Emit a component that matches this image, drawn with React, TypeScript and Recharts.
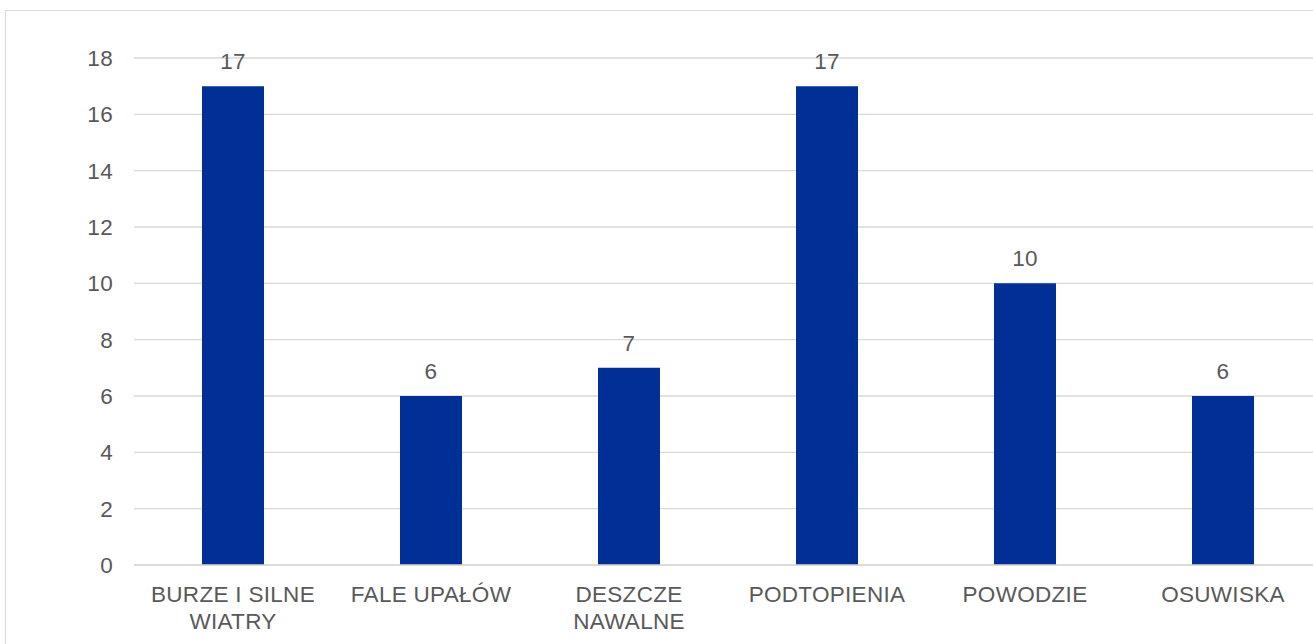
import React from "react";
import { BarChart, Bar, XAxis, YAxis, CartesianGrid, LabelList } from "recharts";

const categories = [
  "BURZE I SILNE\nWIATRY",
  "FALE UPAŁÓW",
  "DESZCZE\nNAWALNE",
  "PODTOPIENIA",
  "POWODZIE",
  "OSUWISKA",
];
const values = [17, 6, 7, 17, 10, 6];
const yTicks = [0, 2, 4, 6, 8, 10, 12, 14, 16, 18];

const data = categories.map((name, i) => ({ name, value: values[i] }));

const FONT = "'Liberation Sans', Arial, sans-serif";
const TEXT = "#595959";
const GRID = "#d9d9d9";
const BAR = "#003096";
const FS = 22.5;
const LS = 0.3;

const XTick = (props: any) => {
  const { x, y, payload } = props;
  const lines = String(payload.value).split("\n");
  return (
    <text
      x={x}
      y={y}
      textAnchor="middle"
      fill={TEXT}
      fontFamily={FONT}
      fontSize={FS}
      letterSpacing={LS}
    >
      {lines.map((l, i) => (
        <tspan key={i} x={x} dy={i === 0 ? 37 : 27}>
          {l}
        </tspan>
      ))}
    </text>
  );
};

export default function App() {
  return (
    <div
      style={{
        position: "absolute",
        left: 0,
        top: 0,
        width: 1313,
        height: 644,
        overflow: "hidden",
        background: "#fff",
      }}
    >
      <div
        style={{
          position: "absolute",
          left: 5,
          top: 10,
          width: 1400,
          height: 800,
          border: `1.5px solid ${GRID}`,
          boxSizing: "border-box",
        }}
      />
      <div style={{ position: "absolute", left: 0, top: 0 }}>
        <BarChart
          width={1340}
          height={700}
          data={data}
          margin={{ top: 58, right: 18, bottom: 75, left: 0 }}
        >
          <CartesianGrid vertical={false} stroke={GRID} strokeWidth={1.3} />
          <XAxis
            dataKey="name"
            interval={0}
            height={60}
            tickLine={false}
            tickSize={0}
            tickMargin={0}
            axisLine={{ stroke: GRID, strokeWidth: 1.3 }}
            tick={<XTick />}
          />
          <YAxis
            width={134}
            domain={[0, 18]}
            ticks={yTicks}
            interval={0}
            axisLine={false}
            tickLine={false}
            tickSize={0}
            tickMargin={21}
            tick={{ fill: TEXT, fontSize: FS, fontFamily: FONT, letterSpacing: LS }}
          />
          <Bar dataKey="value" fill={BAR} barSize={62} isAnimationActive={false}>
            <LabelList
              dataKey="value"
              position="top"
              offset={17}
              fill={TEXT}
              fontSize={FS}
              fontFamily={FONT}
              letterSpacing={LS}
            />
          </Bar>
        </BarChart>
      </div>
    </div>
  );
}
